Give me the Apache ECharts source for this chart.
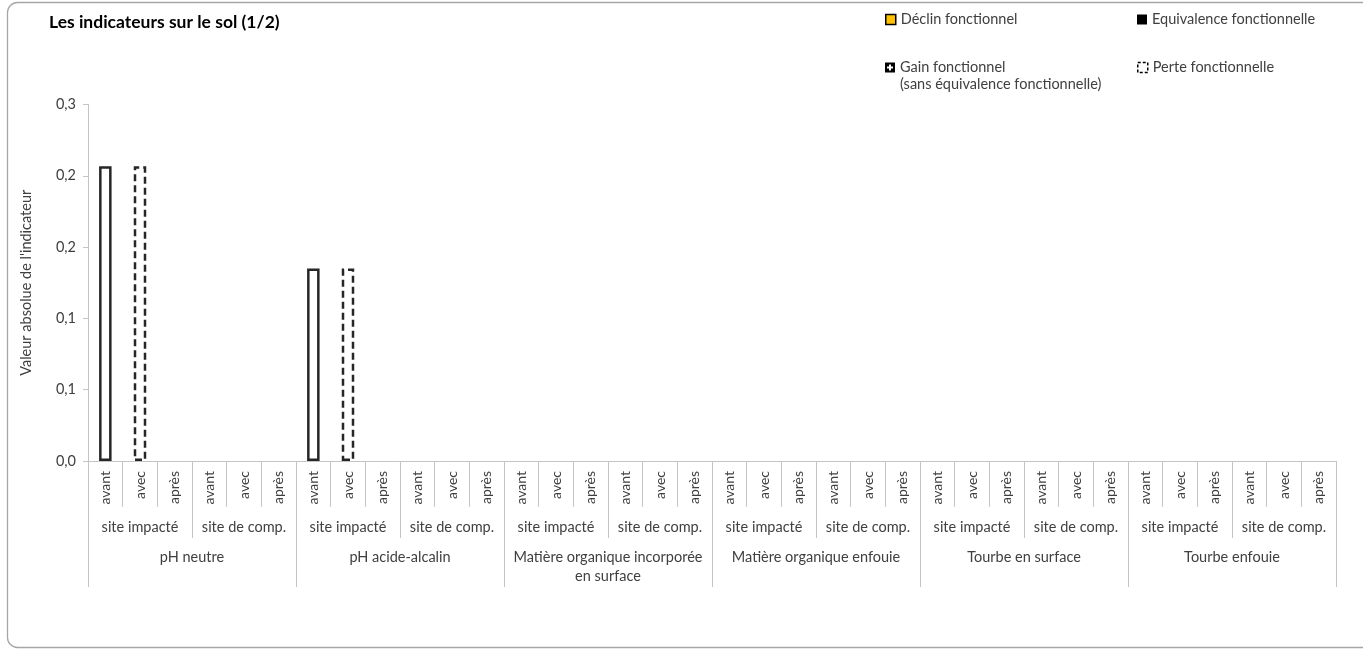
<!DOCTYPE html>
<html>
<head>
<meta charset="utf-8">
<script src="https://cdn.jsdelivr.net/npm/echarts@6/dist/echarts.min.js"></script>
<style>
html,body{margin:0;padding:0;background:#fff;}
#chart{width:1363px;height:650px;}
</style>
</head>
<body>
<div id="chart"></div>
<script>
// ---- Data ----
var periods = ['avant','avec','après','avant','avec','après','avant','avec','après','avant','avec','après',
  'avant','avec','après','avant','avec','après','avant','avec','après','avant','avec','après',
  'avant','avec','après','avant','avec','après','avant','avec','après','avant','avec','après'];
var sites = ['site impacté','site de comp.','site impacté','site de comp.','site impacté','site de comp.',
  'site impacté','site de comp.','site impacté','site de comp.','site impacté','site de comp.'];
var indicators = ['pH neutre','pH acide-alcalin','Matière organique incorporée\nen surface',
  'Matière organique enfouie','Tourbe en surface','Tourbe enfouie'];
var yTicks = [0, 0.06, 0.12, 0.18, 0.24, 0.30];

// reference value (état "avant", solid outline)
var valAvant = [0.248,0,0,0,0,0, 0.162,0,0,0,0,0, 0,0,0,0,0,0, 0,0,0,0,0,0, 0,0,0,0,0,0, 0,0,0,0,0,0];
var valDeclin = [0,0,0,0,0,0, 0,0,0,0,0,0, 0,0,0,0,0,0, 0,0,0,0,0,0, 0,0,0,0,0,0, 0,0,0,0,0,0];
var valEquiv  = [0,0,0,0,0,0, 0,0,0,0,0,0, 0,0,0,0,0,0, 0,0,0,0,0,0, 0,0,0,0,0,0, 0,0,0,0,0,0];
var valGain   = [0,0,0,0,0,0, 0,0,0,0,0,0, 0,0,0,0,0,0, 0,0,0,0,0,0, 0,0,0,0,0,0, 0,0,0,0,0,0];
var valPerte  = [0,0.248,0,0,0,0, 0,0.162,0,0,0,0, 0,0,0,0,0,0, 0,0,0,0,0,0, 0,0,0,0,0,0, 0,0,0,0,0,0];

function clean(arr){ return arr.map(function(v){ return v === 0 ? '-' : v; }); }

var FONT = 'Lato, "Open Sans", sans-serif';
var TXT = '#404040';
var GRID_C = '#c4c4c4';
var FS = 14.5;

var chart = echarts.init(document.getElementById('chart'), null, {renderer:'canvas'});

var gainIcon = 'path://M0,0L10,0L10,10L0,10Z M4,2L4,4L2,4L2,6L4,6L4,8L6,8L6,6L8,6L8,4L6,4L6,2Z';
var GAIN = 'Gain fonctionnel (sans équivalence fonctionnelle)';

function legendAt(name, left, top, icon, style){
  return {
    data: [{name: name, icon: icon, itemStyle: style}],
    left: left, top: top, padding: 0, itemWidth: 10, itemHeight: 10, selectedMode: false,
    formatter: function(n){ return n === GAIN ? 'Gain fonctionnel' : n; },
    textStyle: {fontFamily: FONT, fontSize: FS, color: TXT}
  };
}

var option = {
  animation: false,
  textStyle: {fontFamily: FONT},
  title: {
    text: 'Les indicateurs sur le sol (1/2)', left: 49, top: 13, padding: 0,
    textStyle: {fontFamily: FONT, fontSize: 17.5, fontWeight: 'bold', color: '#000'}
  },
  graphic: [{
    type: 'rect', silent: true, z: -10,
    shape: {x: 7.5, y: 2.5, width: 1370, height: 645, r: 10},
    style: {fill: 'none', stroke: '#a6a6a6', lineWidth: 1.3}
  }, {
    type: 'text', silent: true, left: 900, top: 77,
    style: {text: '(sans équivalence fonctionnelle)', font: FS + 'px ' + FONT, fill: TXT}
  }],
  legend: [
    legendAt('Déclin fonctionnel', 885, 12, 'rect', {color: '#FFC000', borderColor: '#000', borderWidth: 1.5}),
    legendAt('Equivalence fonctionnelle', 1137, 12, 'rect', {color: '#000'}),
    legendAt(GAIN, 885, 60, gainIcon, {color: '#000'}),
    legendAt('Perte fonctionnelle', 1137, 60, 'rect', {color: '#fff', borderColor: '#000', borderWidth: 1.5, borderType: [3, 2]})
  ],
  grid: {left: 88, right: 27, top: 104.5, bottom: 189},
  yAxis: {
    type: 'value', min: 0, max: 0.30, interval: 0.06,
    name: "Valeur absolue de l'indicateur", nameLocation: 'middle', nameGap: 54, nameRotate: 90,
    nameTextStyle: {fontFamily: FONT, fontSize: FS, color: TXT},
    axisLine: {show: true, lineStyle: {color: GRID_C}},
    axisTick: {show: true, length: 5, lineStyle: {color: GRID_C}},
    splitLine: {show: false},
    axisLabel: {
      fontFamily: FONT, fontSize: FS, color: TXT, margin: 12,
      formatter: function(v){ return v.toFixed(1).replace('.', ','); }
    }
  },
  xAxis: [
    {
      type: 'category', data: periods, position: 'bottom', boundaryGap: true,
      axisLine: {show: true, lineStyle: {color: GRID_C}},
      axisTick: {show: true, interval: 0, length: 46, lineStyle: {color: GRID_C}},
      axisLabel: {interval: 0, rotate: 90, margin: 10, fontFamily: FONT, fontSize: 14, color: TXT}
    },
    {
      type: 'category', data: sites, position: 'bottom', boundaryGap: true, gridIndex: 0,
      axisLine: {show: false},
      axisTick: {show: true, interval: 0, length: 77, lineStyle: {color: GRID_C}},
      axisLabel: {interval: 0, margin: 59, fontFamily: FONT, fontSize: FS, color: TXT}
    },
    {
      type: 'category', data: indicators, position: 'bottom', boundaryGap: true, gridIndex: 0,
      axisLine: {show: false},
      axisTick: {show: true, interval: 0, length: 126, lineStyle: {color: GRID_C}},
      axisLabel: {interval: 0, margin: 87, fontFamily: FONT, fontSize: FS, color: TXT, lineHeight: 19}
    }
  ],
  series: [
    {
      name: 'Référence', type: 'bar', stack: 's', xAxisIndex: 0, barWidth: 12.5,
      data: clean(valAvant),
      itemStyle: {color: '#fff', borderColor: '#262626', borderWidth: 2.5}
    },
    {
      name: 'Déclin fonctionnel', type: 'bar', stack: 's', xAxisIndex: 0, barWidth: 12.5,
      data: clean(valDeclin),
      itemStyle: {color: '#FFC000', borderColor: '#000', borderWidth: 1.5}
    },
    {
      name: 'Equivalence fonctionnelle', type: 'bar', stack: 's', xAxisIndex: 0, barWidth: 12.5,
      data: clean(valEquiv),
      itemStyle: {color: '#000'}
    },
    {
      name: GAIN, type: 'bar', stack: 's', xAxisIndex: 0, barWidth: 12.5,
      data: clean(valGain),
      itemStyle: {color: '#000'}
    },
    {
      name: 'Perte fonctionnelle', type: 'bar', stack: 's', xAxisIndex: 0, barWidth: 12.5,
      data: clean(valPerte),
      itemStyle: {color: '#fff', borderColor: '#262626', borderWidth: 2.5, borderType: [7, 4]}
    }
  ]
};
chart.setOption(option);
</script>
</body>
</html>
